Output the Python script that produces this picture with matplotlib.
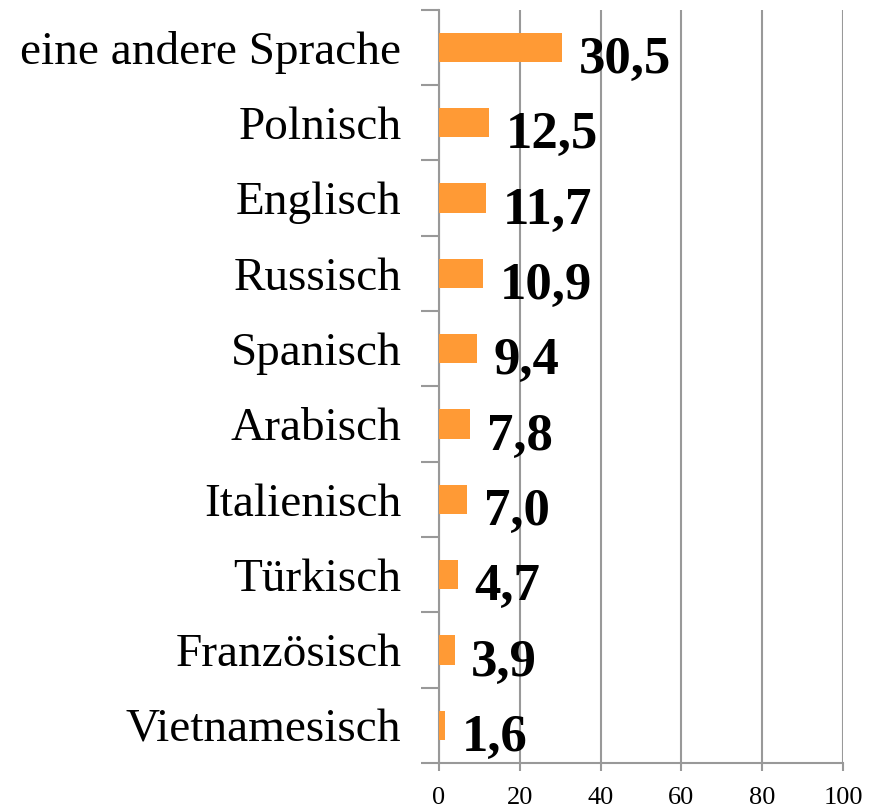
import matplotlib
matplotlib.use("Agg")
import matplotlib.pyplot as plt
import numpy as np

categories = ["eine andere Sprache", "Polnisch", "Englisch", "Russisch", "Spanisch",
              "Arabisch", "Italienisch", "Türkisch", "Französisch", "Vietnamesisch"]
values = [30.5, 12.5, 11.7, 10.9, 9.4, 7.8, 7.0, 4.7, 3.9, 1.6]
value_labels = ["30,5", "12,5", "11,7", "10,9", "9,4", "7,8", "7,0", "4,7", "3,9", "1,6"]
xticks = [0, 20, 40, 60, 80, 100]

plt.rcParams['font.family'] = ['Liberation Serif', 'DejaVu Serif']

fig = plt.figure(figsize=(8.83, 8.09), dpi=100)
ax = fig.add_axes([0.497, 0.0569, 0.458, 0.931])

n = len(categories)
ypos = np.arange(n)
ax.barh(ypos, values, height=0.39, color='#FF9A35', zorder=3)
ax.set_ylim(n - 0.5, -0.5)
ax.set_xlim(0, 100)

ax.set_xticks(xticks)
ax.set_xticklabels([str(t) for t in xticks], fontsize=19)
ax.xaxis.grid(True, color='#999999', linewidth=1.5, zorder=0)
ax.tick_params(axis='x', direction='out', length=6, width=1.5, color='#999999', pad=11)

ax.set_yticks(ypos)
ax.set_yticklabels(categories, fontsize=34)
ax.tick_params(axis='y', which='major', length=0, pad=27)
ax.set_yticks(np.arange(n + 1) - 0.5, minor=True)
ax.tick_params(axis='y', which='minor', length=13, width=1.5, color='#999999')

for s in ['top', 'right']:
    ax.spines[s].set_visible(False)
for s in ['left', 'bottom']:
    ax.spines[s].set_color('#999999')
    ax.spines[s].set_linewidth(1.5)

for y, v, lab in zip(ypos, values, value_labels):
    ax.annotate(lab, xy=(v, y), xytext=(12, -9), textcoords='offset points',
                ha='left', va='center', fontsize=38, fontweight='bold', color='black')

fig.savefig("out.png", dpi=100)
